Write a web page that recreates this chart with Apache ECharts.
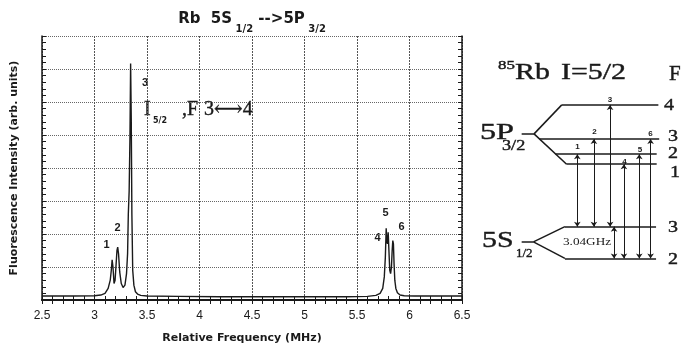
<!DOCTYPE html>
<html>
<head>
<meta charset="utf-8">
<title>Rb 5S1/2 --> 5P3/2</title>
<script src="https://cdn.jsdelivr.net/npm/echarts@6.0.0/dist/echarts.min.js"></script>
<style>
  html, body { margin: 0; padding: 0; background: #fff; }
  #chart { width: 681px; height: 345px; }
</style>
</head>
<body>
<div id="chart"></div>
<script>
// Spectrum: relative frequency (MHz) vs fluorescence (arb. units)
const freq = [2.5, 2.8, 3.0, 3.06, 3.1, 3.13, 3.15, 3.16, 3.168, 3.176, 3.186, 3.196, 3.206,
  3.214, 3.221, 3.229, 3.24, 3.255, 3.272, 3.29, 3.305, 3.315, 3.322, 3.33, 3.338, 3.344,
  3.35, 3.356, 3.364, 3.375, 3.39, 3.41, 3.44, 3.5, 3.8, 4.2, 4.6, 5.0, 5.4, 5.6, 5.68,
  5.72, 5.745, 5.76, 5.77, 5.778, 5.784, 5.79, 5.797, 5.804, 5.812, 5.82, 5.828, 5.835,
  5.841, 5.847, 5.853, 5.86, 5.87, 5.885, 5.91, 5.95, 6.05, 6.2, 6.5];
const intensity = [0.12, 0.12, 0.13, 0.15, 0.2, 0.35, 0.6, 0.9, 1.22, 1.0, 0.5, 0.6, 1.1,
  1.5, 1.6, 1.4, 0.85, 0.5, 0.38, 0.45, 0.8, 1.4, 2.6, 3.3, 5.0, 7.17,
  5.5, 2.6, 0.9, 0.45, 0.25, 0.18, 0.14, 0.12, 0.11, 0.1, 0.1, 0.1, 0.1, 0.11, 0.14,
  0.2, 0.35, 0.7, 1.3, 2.17, 1.8, 1.7, 2.05, 1.5, 0.9, 0.8, 1.0, 1.5,
  1.8, 1.7, 1.1, 0.6, 0.35, 0.22, 0.15, 0.13, 0.12, 0.12, 0.12];

// axis ranges
const freqMin = 2.5, freqMax = 6.5, freqStep = 0.5;
const yMin = 0, yMax = 8, yStep = 1;

// 85Rb level scheme (schematic diagram units, 0..100)
const upperF = ['4', '3', '2', '1'];
const upperE = [69.6, 59.7, 55.3, 52.4];
const upperStart = [43.7, 33.0, 40.7, 46.0];
const upperEnd = [89.7, 90.1, 88.9, 88.9];
const lowerF = ['3', '2'];
const lowerE = [34.3, 25.1];
const lowerStart = [45.2, 45.2];
const lowerEnd = [88.6, 88.6];
// 5P3/2 and 5S1/2 fine-structure stubs: [x0, x1, E]
const upperStub = [24.6, 30.5, 61.2];
const lowerStub = [24.6, 30.2, 29.9];

// transitions 1..6: which upper / lower level, and where they sit
const transNo = ['1', '2', '3', '4', '5', '6'];
const transUpper = [2, 1, 0, 3, 2, 1];
const transLower = [0, 0, 0, 1, 1, 1];
const transX = [51.1, 59.0, 66.7, 73.3, 80.6, 86.0];
const splitX = 68.6; // 3.04 GHz ground splitting arrow

const levelSegs = [];
upperE.forEach((e, i) => levelSegs.push({ coords: [[upperStart[i], e], [upperEnd[i], e]] }));
lowerE.forEach((e, i) => levelSegs.push({ coords: [[lowerStart[i], e], [lowerEnd[i], e]] }));
levelSegs.push({ coords: [[upperStub[0], upperStub[2]], [upperStub[1], upperStub[2]]] });
levelSegs.push({ coords: [[upperStub[1], upperStub[2]], [upperStart[0], upperE[0]]] });
levelSegs.push({ coords: [[upperStub[1], upperStub[2]], [upperStart[3], upperE[3]]] });
levelSegs.push({ coords: [[lowerStub[0], lowerStub[2]], [lowerStub[1], lowerStub[2]]] });
levelSegs.push({ coords: [[lowerStub[1], lowerStub[2]], [lowerStart[0], lowerE[0]]] });
levelSegs.push({ coords: [[lowerStub[1], lowerStub[2]], [lowerStart[1], lowerE[1]]] });

const arrowSegs = transX.map((x, i) => ({
  coords: [[x, upperE[transUpper[i]]], [x, lowerE[transLower[i]]]]
}));
arrowSegs.push({ coords: [[splitX, lowerE[0]], [splitX, lowerE[1]]] });

const INK = '#1a1a1a';
const SANS = 'DejaVu Sans';
const SERIF = 'Liberation Serif, DejaVu Serif';

const chart = echarts.init(document.getElementById('chart'), null, { renderer: 'canvas' });

const edgeAxis = {
  axisLine: { show: true, lineStyle: { color: INK, width: 1.5 } },
  axisTick: { show: true, inside: true, length: 4, lineStyle: { color: INK } },
  minorTick: { show: true, splitNumber: 5, length: 4, lineStyle: { color: INK } },
  axisLabel: { show: false },
  splitLine: { show: false }
};

// serif text in the scan is stretched sideways and a bit heavy
function serifText(txt, x, y, size, opts) {
  return Object.assign({
    type: 'text', x: x, y: y, scaleX: 1.3, silent: true,
    style: {
      text: txt, fill: INK, fontFamily: SERIF, fontSize: size,
      stroke: INK, lineWidth: 0.4,
      textAlign: 'left', textVerticalAlign: 'middle'
    }
  }, opts || {});
}
function boldLabel(txt, x, y, size) {
  return {
    type: 'text', x: x, y: y, silent: true,
    style: {
      text: txt, fill: INK, fontFamily: 'Liberation Sans', fontWeight: 'bold',
      fontSize: size, textAlign: 'center', textVerticalAlign: 'middle'
    }
  };
}

const option = {
  backgroundColor: '#fff',
  animation: false,
  grid: [
    { left: 42, right: 219, top: 36, bottom: 45 },
    { left: 470, width: 210, top: 0, height: 345 }
  ],
  xAxis: [
    {
      type: 'value', gridIndex: 0, position: 'bottom',
      min: freqMin, max: freqMax, interval: freqStep,
      axisLine: { show: true, lineStyle: { color: INK, width: 2 } },
      axisTick: { show: true, inside: true, length: 4, lineStyle: { color: INK } },
      minorTick: { show: true, splitNumber: 5, length: 4, lineStyle: { color: INK } },
      axisLabel: { color: INK, fontSize: 12, fontFamily: 'Liberation Sans', margin: 10 },
      splitLine: { show: true, lineStyle: { color: '#555', width: 1, type: [2, 1] } }
    },
    Object.assign({ type: 'value', gridIndex: 0, position: 'top',
      min: freqMin, max: freqMax, interval: freqStep }, edgeAxis),
    { type: 'value', gridIndex: 1, min: 0, max: 100, show: false }
  ],
  yAxis: [
    {
      type: 'value', gridIndex: 0, position: 'left',
      min: yMin, max: yMax, interval: yStep,
      axisLine: { show: true, lineStyle: { color: INK, width: 1.5 } },
      axisTick: { show: true, inside: true, length: 4, lineStyle: { color: INK } },
      minorTick: { show: true, splitNumber: 5, length: 4, lineStyle: { color: INK } },
      axisLabel: { show: false },
      splitLine: { show: true, lineStyle: { color: '#666', width: 1, type: 'dotted' } }
    },
    Object.assign({ type: 'value', gridIndex: 0, position: 'right',
      min: yMin, max: yMax, interval: yStep }, edgeAxis),
    { type: 'value', gridIndex: 1, min: 0, max: 100, show: false }
  ],
  series: [
    {
      name: 'Fluorescence', type: 'line', xAxisIndex: 0, yAxisIndex: 0,
      data: freq.map((f, i) => [f, intensity[i]]),
      showSymbol: false, silent: true,
      lineStyle: { color: INK, width: 1.4 }
    },
    {
      name: 'levels', type: 'lines', coordinateSystem: 'cartesian2d',
      xAxisIndex: 2, yAxisIndex: 2, silent: true,
      symbol: 'none',
      lineStyle: { color: INK, width: 1.5, opacity: 1 },
      data: levelSegs
    },
    {
      name: 'transitions', type: 'lines', coordinateSystem: 'cartesian2d',
      xAxisIndex: 2, yAxisIndex: 2, silent: true,
      symbol: ['arrow', 'arrow'], symbolSize: 5,
      lineStyle: { color: INK, width: 1, opacity: 1 },
      data: arrowSegs
    }
  ],
  graphic: [
    // title
    {
      type: 'text', x: 252, y: 5, silent: true,
      style: {
        text: '{m|Rb  5S}{s| 1/2}{m| -->5P}{s| 3/2}',
        textAlign: 'center', textVerticalAlign: 'top', fill: INK,
        rich: {
          m: { fontFamily: SANS, fontWeight: 'bold', fontSize: 15, lineHeight: 29, fill: INK },
          s: { fontFamily: SANS, fontWeight: 'bold', fontSize: 10, lineHeight: 10, verticalAlign: 'bottom', fill: INK }
        }
      }
    },
    // axis names
    {
      type: 'text', x: 242, y: 338, silent: true,
      style: { text: 'Relative Frequency (MHz)', fill: INK, fontFamily: SANS, fontWeight: 'bold',
        fontSize: 11, textAlign: 'center', textVerticalAlign: 'middle' }
    },
    {
      type: 'text', x: 14.5, y: 168, rotation: Math.PI / 2, silent: true,
      style: { text: 'Fluorescence Intensity (arb. units)', fill: INK, fontFamily: SANS, fontWeight: 'bold',
        fontSize: 11, textAlign: 'center', textVerticalAlign: 'middle' }
    },
    // peak numbers
    boldLabel(transNo[0], 106.5, 244.5, 11),
    boldLabel(transNo[1], 117.5, 228, 11),
    boldLabel(transNo[2], 145, 83, 11),
    boldLabel(transNo[3], 377.5, 237.5, 11),
    boldLabel(transNo[4], 385.5, 212.5, 11),
    boldLabel(transNo[5], 401.5, 227, 11),
    // I 5/2, F 3<->4 annotation
    serifText('I', 144, 110, 20, { scaleX: 1 }),
    {
      type: 'text', x: 153, y: 121, silent: true,
      style: { text: '5/2', fill: INK, fontFamily: SANS, fontWeight: 'bold', fontSize: 8,
        textAlign: 'left', textVerticalAlign: 'middle' }
    },
    serifText(',F', 182, 110, 20, { scaleX: 1 }),
    serifText('3\u27F7' + upperF[0], 204, 110, 20, { scaleX: 1 }),
    // level diagram labels
    serifText('85', 498, 65.5, 13),
    serifText('Rb', 515, 73, 23),
    serifText('I=5/2', 561, 73, 23),
    serifText('F', 669, 74, 21, { scaleX: 1 }),
    serifText('5P', 480, 132.5, 23, { scaleX: 1.4 }),
    serifText('3/2', 502, 146, 14),
    serifText('5S', 482, 240.5, 23),
    serifText('1/2', 516, 254, 13, { scaleX: 1 }),
    serifText('3.04GHz', 563, 242.5, 11, { scaleX: 1.2, style: {
      text: '3.04GHz', fill: INK, fontFamily: SERIF, fontSize: 11,
      textAlign: 'left', textVerticalAlign: 'middle' } }),
    serifText(upperF[0], 664, 105.5, 16, { scaleX: 1.25 }),
    serifText(upperF[1], 668, 137, 16, { scaleX: 1.25 }),
    serifText(upperF[2], 668, 154, 16, { scaleX: 1.25 }),
    serifText(upperF[3], 670, 173, 16, { scaleX: 1.25 }),
    serifText(lowerF[0], 668, 227.5, 16, { scaleX: 1.25 }),
    serifText(lowerF[1], 668, 260, 16, { scaleX: 1.25 }),
    // transition numbers
    boldLabel(transNo[0], 577.5, 147, 8),
    boldLabel(transNo[1], 594.5, 132, 8),
    boldLabel(transNo[2], 610, 100, 8),
    boldLabel(transNo[3], 624.5, 162, 8),
    boldLabel(transNo[4], 640, 149.5, 8),
    boldLabel(transNo[5], 650.5, 133.5, 8)
  ]
};

chart.setOption(option);
</script>
</body>
</html>
